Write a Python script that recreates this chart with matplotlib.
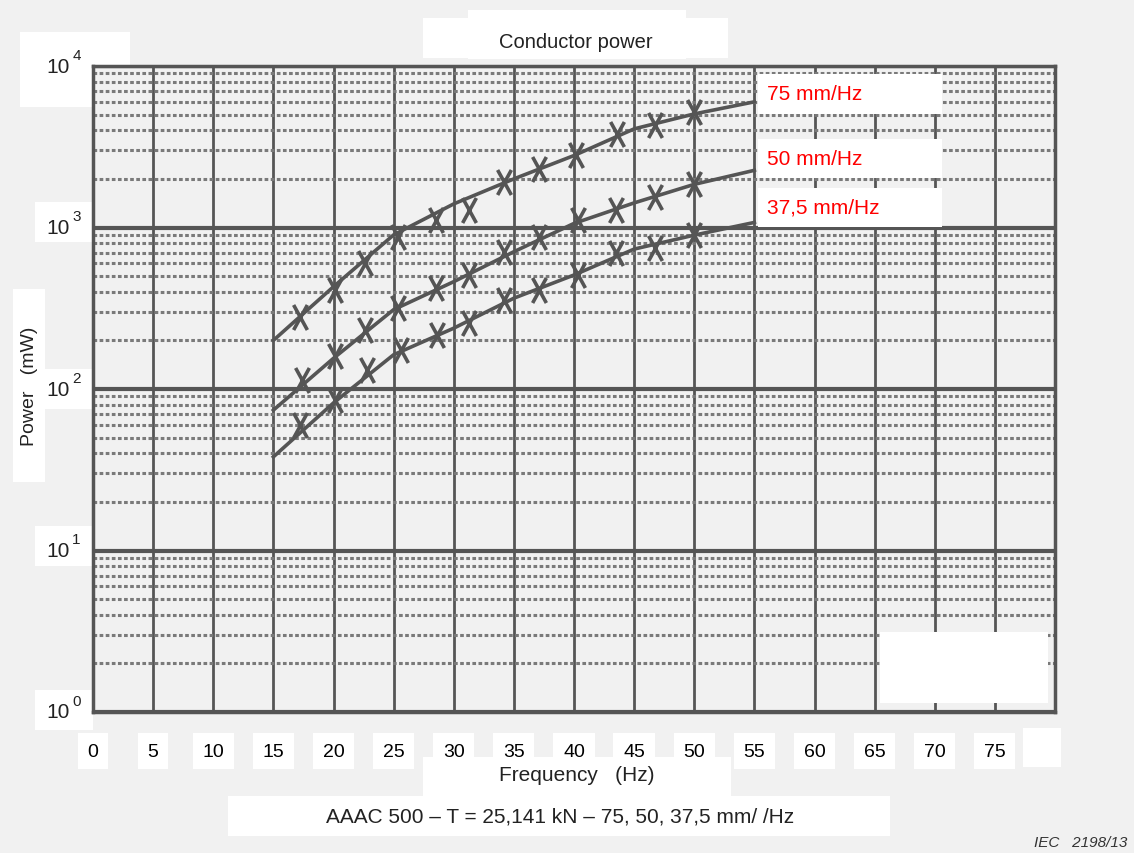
import matplotlib
matplotlib.use("Agg")
import matplotlib.pyplot as plt
from matplotlib.patches import Rectangle
from matplotlib.path import Path
from matplotlib.ticker import LogLocator, NullFormatter
from matplotlib.transforms import offset_copy

plt.rcParams['font.family'] = ['Liberation Sans', 'DejaVu Sans']

# curves as drawn (read at the 5 Hz grid lines)
freq = [15, 20, 25, 30, 35, 40, 45, 50, 55]
p_75 = [200, 430, 900, 1400, 2000, 2790, 4080, 5050, 6000]
p_50 = [74, 155, 310, 462, 708, 1060, 1420, 1850, 2260]
p_37 = [38, 82, 163, 238, 365, 508, 735, 897, 1075]

# measured points (hand drawn crosses)
m75_f = [17.2, 20.1, 22.6, 25.4, 28.5, 31.25, 34.2, 37.1, 40.2, 43.6, 46.7, 50.0]
m75_p = [281, 410, 600, 877, 1109, 1279, 1914, 2311, 2820, 3800, 4290, 5180]
m50_f = [17.4, 20.1, 22.6, 25.4, 28.5, 31.25, 34.2, 37.1, 40.3, 43.5, 46.7, 50.0]
m50_p = [114, 159, 232, 316, 420, 508, 708, 877, 1109, 1279, 1546, 1870]
m37_f = [17.2, 20.1, 22.8, 25.6, 28.6, 31.25, 34.2, 37.1, 40.3, 43.5, 46.7, 50.0]
m37_p = [60, 86, 132, 175, 216, 255, 356, 410, 508, 691, 742, 897]

labels = ['75 mm/Hz', '50 mm/Hz', '37,5 mm/Hz']
xticks = [0, 5, 10, 15, 20, 25, 30, 35, 40, 45, 50, 55, 60, 65, 70, 75]
yticks = [1, 10, 100, 1000, 10000]
yexp = ['0', '1', '2', '3', '4']

W, H = 1134, 854
bg = '#f1f1f1'
ink = '#555555'
txt_c = '#222222'

fig = plt.figure(figsize=(W / 100, H / 100), dpi=100, facecolor=bg)


def px_box(x0, y0, x1, y1, z=-1):
    # white paper patch, pixel coords from top-left
    fig.patches.append(Rectangle((x0 / W, 1 - y1 / H), (x1 - x0) / W, (y1 - y0) / H,
                                 transform=fig.transFigure, facecolor='white',
                                 edgecolor='none', zorder=z))


# white patches behind the labels
px_box(20, 33, 130, 108)
for yc in [223, 390, 547, 711]:
    px_box(35, yc - 20, 93, yc + 20)
px_box(13, 290, 45, 483)
px_box(468, 11, 686, 60)
px_box(423, 19, 728, 59)
px_box(423, 758, 731, 797)
px_box(228, 797, 890, 837)
px_box(1023, 729, 1061, 768)

ax = fig.add_axes([93 / W, 1 - 713 / H, (1055 - 93) / W, (713 - 67) / H])
ax.set_facecolor(bg)
ax.set_yscale('log')
ax.set_xlim(0, 80)
ax.set_ylim(1, 10000)

ax.set_xticks(list(range(0, 81, 5)), labels=[str(t) for t in xticks] + [''], fontsize=14)
ax.set_yticks(yticks, labels=[''] * len(yticks))
ax.yaxis.set_minor_locator(LogLocator(base=10, subs=range(2, 10)))
ax.yaxis.set_minor_formatter(NullFormatter())

ax.grid(True, axis='x', which='major', color=ink, lw=2.0, zorder=1)
ax.grid(True, axis='y', which='major', color=ink, lw=3.0, zorder=1)
ax.grid(True, axis='y', which='minor', color='#7a7a7a', lw=2.2,
        linestyle=(0, (1.2, 0.8)), zorder=1)
ax.set_axisbelow(True)
for s in ax.spines.values():
    s.set_color(ink)
    s.set_linewidth(2.5)

ax.tick_params(which='both', length=0)
ax.tick_params(axis='x', pad=22)
for lbl in ax.get_xticklabels():
    if lbl.get_text():
        lbl.set_bbox(dict(facecolor='white', edgecolor='none', pad=7))

# y labels: "10" with a large raised exponent, as in the printed figure
ytr = ax.get_yaxis_transform()
base_tr = offset_copy(ytr, fig=fig, x=-16.5, y=0, units='points')
exp_tr = offset_copy(ytr, fig=fig, x=-15, y=8, units='points')
for v, e in zip(yticks, yexp):
    ax.text(0, v, '10', transform=base_tr, fontsize=15, ha='right',
            va='center', color=txt_c, clip_on=False)
    ax.text(0, v, e, transform=exp_tr, fontsize=11, ha='left',
            va='center', color=txt_c, clip_on=False)

cross = Path([(-0.55, -1), (0.55, 1), (-0.55, 1), (0.55, -1)],
             [Path.MOVETO, Path.LINETO, Path.MOVETO, Path.LINETO])

for p_line, mf, mp in [(p_75, m75_f, m75_p), (p_50, m50_f, m50_p), (p_37, m37_f, m37_p)]:
    ax.plot(freq, p_line, color=ink, lw=2.6, zorder=3)
    ax.plot(mf, mp, linestyle='none', marker=cross, ms=18, mew=2.6,
            color=ink, zorder=4)

# blank patch inside the grid (bottom right)
px_box(880, 633, 1048, 704, z=5)

# curve labels on white patches
for (y0, y1), txt in zip([(75, 115), (140, 179), (189, 228)], labels):
    px_box(758, y0, 942, y1, z=5)
    fig.text(767 / W, 1 - (y0 + y1) / 2 / H, txt, color='red', fontsize=15,
             va='center', ha='left', zorder=6)

fig.text(576 / W, 1 - 42 / H, 'Conductor power', fontsize=14.5, ha='center',
         va='center', color=txt_c)
fig.text(29 / W, 1 - 386 / H, 'Power   (mW)', fontsize=14, rotation=90,
         ha='center', va='center', color=txt_c)
fig.text(577 / W, 1 - 776 / H, 'Frequency   (Hz)', fontsize=15, ha='center',
         va='center', color=txt_c)
fig.text(560 / W, 1 - 817 / H, 'AAAC 500 \u2013 T = 25,141 kN \u2013 75, 50, 37,5 mm/ /Hz',
         fontsize=15, ha='center', va='center', color=txt_c)
fig.text(1127 / W, 1 - 843 / H, 'IEC   2198/13', fontsize=11, style='italic',
         ha='right', va='center', color='#333333')

fig.savefig('out.png', dpi=100, facecolor=bg)
